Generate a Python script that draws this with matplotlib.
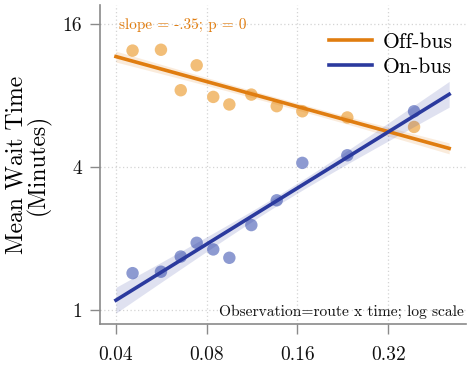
import numpy as np
import matplotlib
matplotlib.use("Agg")
import matplotlib.pyplot as plt
from matplotlib.ticker import FixedLocator, FixedFormatter, NullLocator

plt.rcParams["font.family"] = ["cmr10", "DejaVu Serif"]
plt.rcParams["axes.unicode_minus"] = False
plt.rcParams["mathtext.fontset"] = "cm"

# Binned means (share of route time on-bus vs. mean wait, minutes)
bin_x = [0.0454, 0.0564, 0.0656, 0.0741, 0.0841, 0.0951, 0.1125, 0.1366, 0.1661, 0.2342, 0.390]
off_bus = [12.4, 12.5, 8.44, 10.75, 7.91, 7.35, 8.09, 7.23, 6.88, 6.48, 5.91]
on_bus = [1.43, 1.45, 1.68, 1.92, 1.80, 1.66, 2.28, 2.90, 4.17, 4.49, 6.88]

# Log-log fits: slope, value at x = 0.04, and standard-error parameters (log2 units)
off_slope, off_at_start = -0.35, 11.7
on_slope, on_at_start = 0.785, 1.10
off_se = (0.025, 0.030)
on_se = (0.035, 0.085)
fit_range = (0.04, 0.51)

x_ticks = [0.04, 0.08, 0.16, 0.32]
x_tick_labels = ["0.04", "0.08", "0.16", "0.32"]
y_ticks = [1, 4, 16]
y_tick_labels = ["1", "4", "16"]

orange_line = "#E07D10"
orange_pt = "#F2BE78"
blue_line = "#2B3A9E"
blue_pt = "#8D9AD1"

fig = plt.figure(figsize=(4.69, 3.66), dpi=100)
ax = fig.add_axes([100 / 469, 42 / 366, 366 / 469, 319 / 366])
ax.set_xscale("log", base=2)
ax.set_yscale("log", base=2)
ax.set_xlim(0.0354, 0.58)
ax.set_ylim(0.873, 19.3)

xs = np.geomspace(*fit_range, 100)
lx = np.log2(xs / fit_range[0])
lmid = lx.mean()
lspan = lx.max() - lmid


def fit_band(slope, start, se):
    ly = np.log2(start) + slope * lx
    hw = 1.96 * np.sqrt(se[0] ** 2 + (se[1] * (lx - lmid) / lspan) ** 2)
    return 2 ** ly, 2 ** (ly - hw), 2 ** (ly + hw)


for slope, start, se, lc, pc, ys, lab in [
    (off_slope, off_at_start, off_se, orange_line, orange_pt, off_bus, "Off-bus"),
    (on_slope, on_at_start, on_se, blue_line, blue_pt, on_bus, "On-bus"),
]:
    ax.scatter(bin_x, ys, s=80, color=pc, edgecolors="none", zorder=2)
    yfit, lo, hi = fit_band(slope, start, se)
    ax.fill_between(xs, lo, hi, color=lc, alpha=0.15, linewidth=0, zorder=3)
    ax.plot(xs, yfit, color=lc, lw=2.6, zorder=4, label=lab)

ax.xaxis.set_major_locator(FixedLocator(x_ticks))
ax.xaxis.set_major_formatter(FixedFormatter(x_tick_labels))
ax.yaxis.set_major_locator(FixedLocator(y_ticks))
ax.yaxis.set_major_formatter(FixedFormatter(y_tick_labels))
ax.xaxis.set_minor_locator(NullLocator())
ax.yaxis.set_minor_locator(NullLocator())

ax.grid(True, which="major", color="#d4d4d4", linestyle=(0, (1, 2)), linewidth=0.9, zorder=0)
ax.set_axisbelow(True)

for s in ("top", "right"):
    ax.spines[s].set_visible(False)
for s in ("left", "bottom"):
    ax.spines[s].set_color("#8a8a8a")
    ax.spines[s].set_linewidth(1.2)
ax.tick_params(axis="both", direction="out", length=7, width=1.0, color="#8a8a8a",
               labelsize=14, labelcolor="#111111")
ax.tick_params(axis="x", pad=9)
ax.tick_params(axis="y", pad=6)

ax.set_ylabel("Mean Wait Time\n(Minutes)", fontsize=17, linespacing=0.95, labelpad=8)

ax.text(0.052, 0.96, "slope = -.35; p = 0", transform=ax.transAxes, color=orange_line,
        fontsize=11, ha="left", va="top")
ax.text(0.995, 0.015, "Observation=route x time; log scale", transform=ax.transAxes,
        fontsize=11.2, ha="right", va="bottom", color="#111111")

leg = ax.legend(loc="upper right", bbox_to_anchor=(1.0, 0.955), frameon=False, fontsize=15.5,
                handlelength=2.0, handletextpad=0.5, labelspacing=0.25, borderaxespad=0.2)

fig.savefig("out.png", dpi=100)
